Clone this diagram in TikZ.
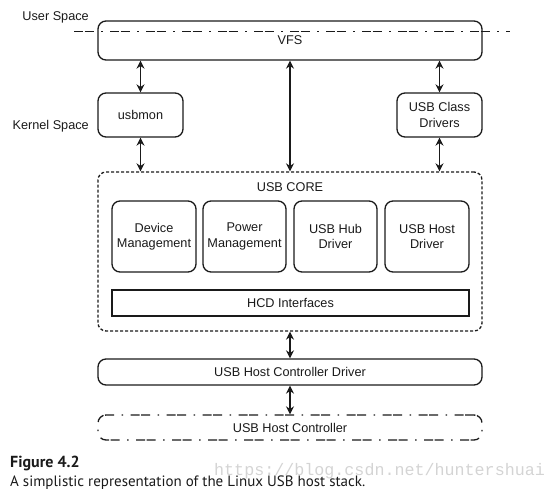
\documentclass[tikz,border=0pt]{standalone}
\usepackage{fontspec}
\setmainfont{Liberation Sans}
\newfontfamily\capfont{PT Sans}
\newfontfamily\wmfont{Liberation Mono}
\usetikzlibrary{arrows.meta}
\definecolor{ink}{HTML}{1A1A1A}
\definecolor{wm}{HTML}{D4D4D4}
\tikzset{
  px/.style={x=1pt,y=-1pt},
  box/.style={draw=ink, line width=1.3pt, rounded corners=8pt, inner sep=0pt,
    font=\fontsize{12.7}{15.5}\selectfont, align=center, text=ink},
  sqbox/.style={draw=ink, line width=1.3pt, inner sep=0pt,
    font=\fontsize{12.7}{15.5}\selectfont, align=center, text=ink},
  dotbox/.style={box, dash pattern=on 3pt off 2pt},
  dashdot/.style={dash pattern=on 9pt off 1.5pt on 9pt off 7.5pt on 1.5pt off 7.5pt},
  arr/.style={draw=ink, line width=1.4pt, {Stealth[length=8pt,width=8pt]}-{Stealth[length=8pt,width=8pt]}},
  lbl/.style={font=\fontsize{12.7}{15}\selectfont, text=ink, inner sep=0pt},
}
\begin{document}
\begin{tikzpicture}[px]
\useasboundingbox (0,0) rectangle (559,494);
% labels
\node[lbl, anchor=east] (us) at (89,17) {User Space};
\node[lbl, anchor=east] (ks) at (89,126) {Kernel Space};
% VFS
\node[box, minimum width=384pt, minimum height=39pt] (vfs) at (290,40.5) {\raisebox{-4pt}{VFS}};
\coordinate (dl) at (74,31.5);
\coordinate (dr) at (510,31.5);
\draw[ink, line width=1.3pt, dashdot] (dl) -- (dr);
% kernel boxes
\node[box, minimum width=85pt, minimum height=44pt] (mon) at (140.5,115) {usbmon};
\node[box, minimum width=85pt, minimum height=44pt] (cls) at (439.5,115) {USB Class\\Drivers};
% core
\node[dotbox, minimum width=384pt, minimum height=159pt] (core) at (290,251.5) {};
\node[lbl] (corelbl) at (290,187) {USB CORE};
\node[box, minimum width=84pt, minimum height=71pt] (dev) at (154,236.5) {Device\\Management};
\node[box, minimum width=83pt, minimum height=71pt] (pow) at (244.5,236.5) {Power\\Management};
\node[box, minimum width=83pt, minimum height=71pt] (hub) at (335.5,236.5) {USB Hub\\Driver};
\node[box, minimum width=84pt, minimum height=71pt] (hst) at (427,236.5) {USB Host\\Driver};
\node[sqbox, minimum width=357pt, minimum height=26pt] (hcd) at (290.5,303) {HCD Interfaces};
% lower
\node[box, minimum width=384pt, minimum height=26pt] (hcdrv) at (290,372) {USB Host Controller Driver};
\node[box, dashdot, minimum width=384pt, minimum height=25pt] (hc) at (290,427.5) {USB Host Controller};
% arrows
\draw[arr] (mon.north |- vfs.south) -- (mon.north);
\draw[arr] (mon.south) -- (mon.south |- core.north);
\draw[arr] (cls.north |- vfs.south) -- (cls.north);
\draw[arr] (cls.south) -- (cls.south |- core.north);
\draw[arr] (vfs.south) -- (core.north);
\draw[arr] (core.south) -- (hcdrv.north);
\draw[arr] (hcdrv.south) -- (hc.north);
% caption
\node[anchor=base west, inner sep=0pt, font=\capfont\bfseries\fontsize{16}{18}\selectfont, text=ink] (fig) at (10,467) {Figure 4.2};
\node[anchor=base west, inner sep=0pt, font=\capfont\fontsize{15}{17}\selectfont, text=ink] (cap) at (10,486) {A simplistic representation of the Linux USB host stack.};
\node[anchor=base west, inner sep=0pt, font=\wmfont\fontsize{16.7}{18}\selectfont, text=wm] (wmk) at (214,475) {https://blog.csdn.net/huntershuai};
\end{tikzpicture}
\end{document}
